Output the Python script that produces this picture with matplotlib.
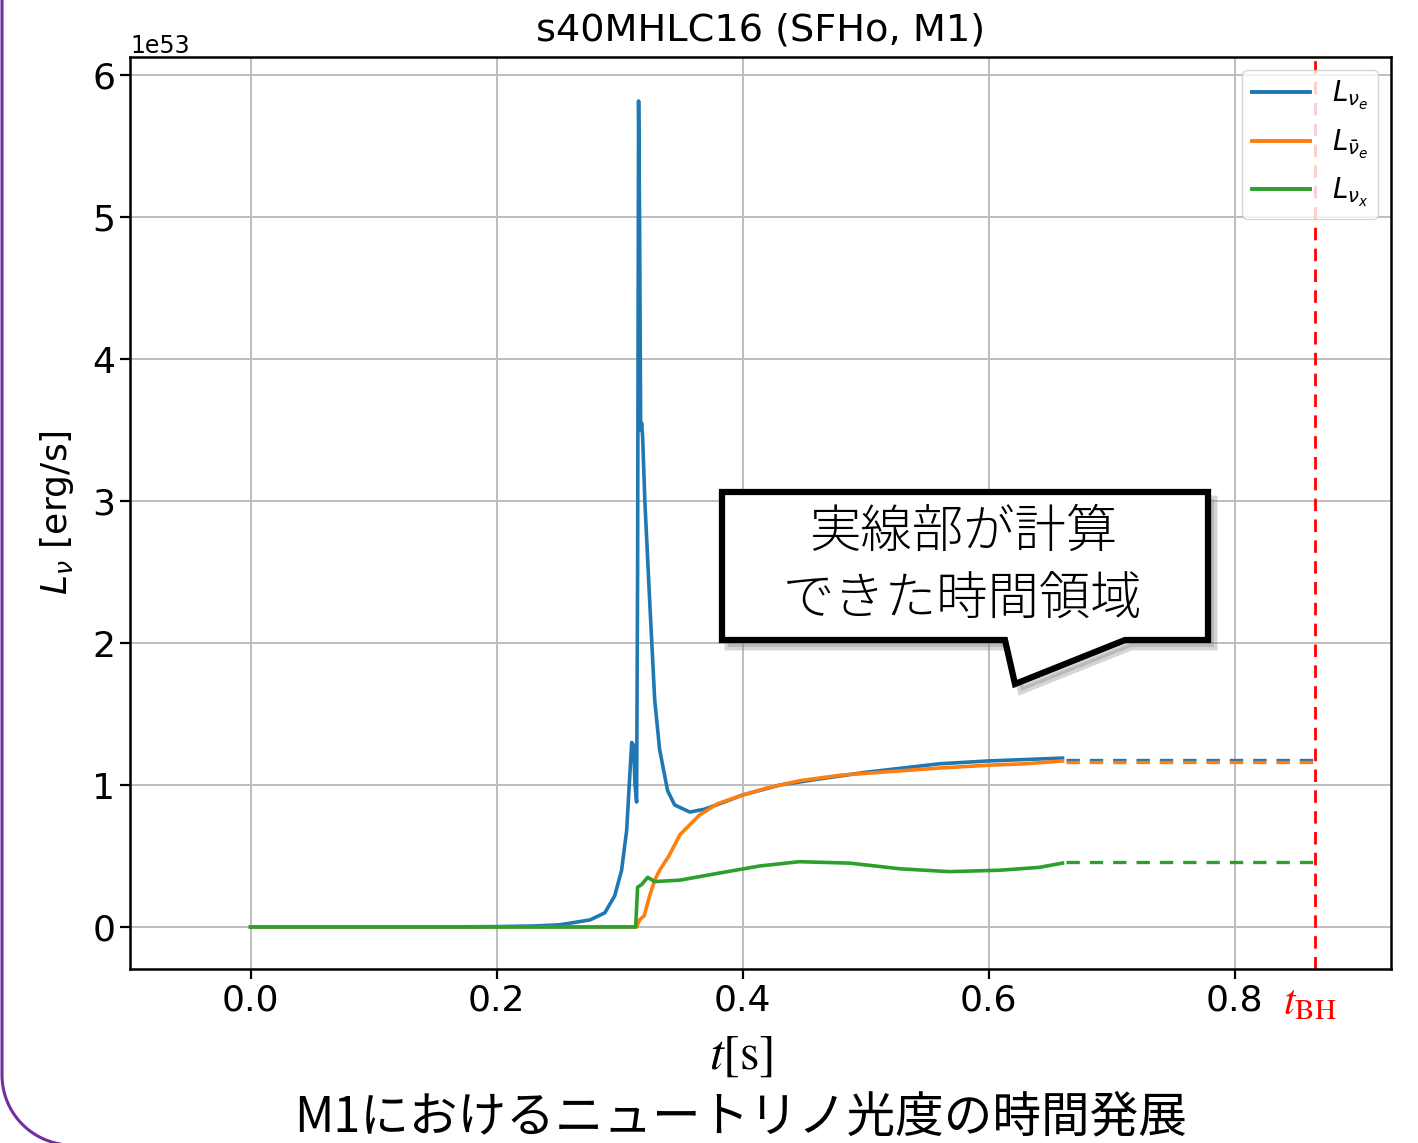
import numpy as np
import matplotlib
matplotlib.use("Agg")
import matplotlib.pyplot as plt
from matplotlib.patches import Polygon
from matplotlib.lines import Line2D
import matplotlib.transforms as mtrans

W, H = 1418, 1143

# --- data (luminosity in units of 1e53 erg/s) ---
t_nue = [0.0, 0.15, 0.2, 0.23, 0.251, 0.276, 0.288, 0.296, 0.3016, 0.3057, 0.308, 0.3098,
         0.3114, 0.3125, 0.3138, 0.3146, 0.3154, 0.3162, 0.3171, 0.3179, 0.3187, 0.3205,
         0.3244, 0.3285, 0.3325, 0.339, 0.3447, 0.357, 0.369, 0.385, 0.4, 0.43, 0.46,
         0.5, 0.53, 0.56, 0.6, 0.63, 0.66]
L_nue = [0.0, 0.0, 0.003, 0.007, 0.015, 0.05, 0.1, 0.22, 0.4, 0.68, 1.03, 1.3,
         1.28, 1.0, 0.88, 2.5, 5.82, 5.0, 3.5, 3.55, 3.45, 3.0,
         2.3, 1.6, 1.25, 0.96, 0.86, 0.81, 0.83, 0.88, 0.93, 1.0, 1.04,
         1.09, 1.12, 1.15, 1.17, 1.18, 1.19]

t_nuebar = [0.0, 0.2, 0.3, 0.3138, 0.3162, 0.32, 0.3244, 0.3285, 0.3325, 0.34, 0.349,
            0.365, 0.38, 0.4, 0.42, 0.446, 0.48, 0.528, 0.56, 0.6, 0.63, 0.66]
L_nuebar = [0.0, 0.0, 0.0, 0.0, 0.05, 0.08, 0.22, 0.33, 0.4, 0.5, 0.65,
            0.79, 0.87, 0.93, 0.98, 1.03, 1.07, 1.1, 1.12, 1.14, 1.15, 1.17]

t_nux = [0.0, 0.2, 0.3, 0.313, 0.3146, 0.318, 0.3228, 0.3285, 0.349, 0.381, 0.414,
         0.446, 0.487, 0.528, 0.568, 0.609, 0.641, 0.66]
L_nux = [0.0, 0.0, 0.0, 0.0, 0.28, 0.3, 0.35, 0.32, 0.33, 0.38, 0.43,
         0.46, 0.45, 0.41, 0.39, 0.40, 0.42, 0.45]

t_end = 0.663
t_bh = 0.865
L_ext = [1.18, 1.16, 0.46]   # dashed continuation levels
colors = ["#1f77b4", "#ff7f0e", "#2ca02c"]
labels = [r"$L_{\nu_e}$", r"$L_{\bar{\nu}_e}$", r"$L_{\nu_x}$"]

fig = plt.figure(figsize=(W / 100, H / 100), dpi=100)
ax = fig.add_axes([130 / W, 1 - 969 / H, (1391 - 130) / W, (969 - 57) / H])

series = [(t_nue, L_nue), (t_nuebar, L_nuebar), (t_nux, L_nux)]
for (tt, LL), c, lab in zip(series, colors, labels):
    ax.plot(tt, np.array(LL) * 1e53, color=c, lw=2.6, label=lab)
for lev, c in zip(L_ext, colors):
    ax.plot([t_end, t_bh], [lev * 1e53, lev * 1e53], color=c, lw=2.4, dashes=(4.0, 3.0))
ax.axvline(t_bh, color="red", lw=2.0, dashes=(4.5, 3.0))

ax.set_xlim(-0.098, 0.927)
ax.set_ylim(-0.296e53, 6.13e53)
ax.set_xticks([0.0, 0.2, 0.4, 0.6, 0.8])
ax.set_yticks(np.arange(0, 7) * 1e53)
ax.grid(True, color="#bdbdbd", lw=1.4)
ax.set_axisbelow(True)
for s in ax.spines.values():
    s.set_linewidth(1.8)
ax.tick_params(labelsize=26, length=7, width=1.6)
ax.yaxis.get_offset_text().set_fontsize(17)

ax.set_title("s40MHLC16 (SFHo, M1)", fontsize=27.5, pad=12)
ax.set_ylabel(r"$L_\nu$ [erg/s]", fontsize=26, labelpad=12)
ax.set_xlabel(r"$t[\mathrm{s}]$", fontsize=36, math_fontfamily="stix")
ax.xaxis.set_label_coords((741 - 130) / 1261, -0.068)

trans = mtrans.blended_transform_factory(ax.transData, ax.transAxes)
ax.text(t_bh - 0.004, -0.036, r"$t_{\mathrm{BH}}$", color="red", fontsize=30,
        math_fontfamily="stix", ha="center", va="center", transform=trans)

leg = ax.legend(loc="upper right", fontsize=20, handlelength=2.1, handletextpad=0.8,
                labelspacing=0.55, borderaxespad=0.45, borderpad=0.35)
for ln in leg.get_lines():
    ln.set_linewidth(2.8)

# callout box (figure pixel coords)
def fp(x, y):
    return (x / W, 1 - y / H)

box = [(722, 492), (1208, 492), (1208, 640), (1125, 640), (1015, 684), (1005, 640), (722, 640)]
shadow = Polygon([fp(x + 6, y + 7) for x, y in box], closed=True, transform=fig.transFigure,
                 facecolor="#888888", edgecolor="#888888", lw=5, alpha=0.35, zorder=5)
fig.patches.append(shadow)
callout = Polygon([fp(x, y) for x, y in box], closed=True, transform=fig.transFigure,
                  facecolor="white", edgecolor="black", lw=4.5, joinstyle="miter", zorder=6)
fig.patches.append(callout)
jp = ["Noto Sans CJK JP", "DejaVu Sans"]
fig.text(*fp(963, 532), "実線部が計算", family=jp, weight="light", fontsize=37,
         ha="center", va="center", zorder=7)
fig.text(*fp(963, 599), "できた時間領域", family=jp, weight="light", fontsize=37,
         ha="center", va="center", zorder=7)

fig.text(*fp(741, 1119), "M1におけるニュートリノ光度の時間発展", family=jp, fontsize=35,
         ha="center", va="center")

# slide border (purple, rounded lower-left corner)
ang = np.linspace(np.pi, np.pi / 2, 40)
r, cx, cy = 70, 72, 1075
bx = [2] + list(cx + r * np.cos(ang)) + [W + 10]
by = [-5] + list(cy + r * np.sin(ang)) + [cy + r]
fig.lines.append(Line2D([x / W for x in bx], [1 - y / H for y in by], transform=fig.transFigure,
                        color="#7030a0", lw=2.2))

fig.savefig("out.png", dpi=100)
